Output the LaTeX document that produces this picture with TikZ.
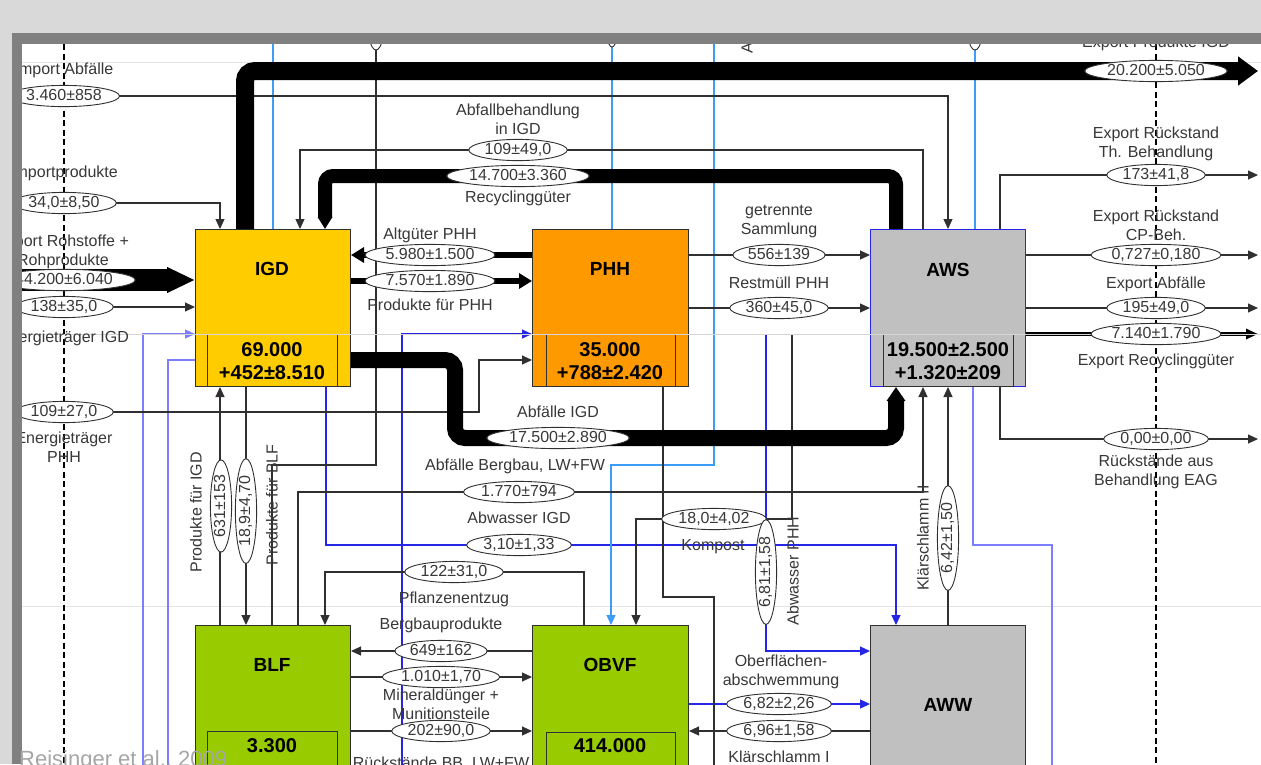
\documentclass[tikz,border=0pt]{standalone}
\usepackage{fontspec}
\setmainfont{Liberation Sans}
\usetikzlibrary{arrows.meta,shapes.geometric}
\definecolor{igdc}{HTML}{FFCC00}
\definecolor{phhc}{HTML}{FF9900}
\definecolor{grayc}{HTML}{C0C0C0}
\definecolor{greenc}{HTML}{99CC00}
\definecolor{txt}{HTML}{383838}
\definecolor{ln}{HTML}{303030}
\definecolor{bdark}{HTML}{2626E6}
\definecolor{bmid}{HTML}{7D7DFF}
\definecolor{blight}{HTML}{3D9CF5}
\definecolor{bgc}{HTML}{D9D9D9}
\definecolor{framec}{HTML}{808080}
\definecolor{footc}{HTML}{A6A6A6}
\definecolor{faintc}{HTML}{E4E4E4}
\tikzset{
 lab/.style={font=\fontsize{16}{19}\selectfont, text=txt, inner sep=0pt, align=center},
 val/.style={ellipse, draw=ln, line width=0.9pt, fill=white, font=\fontsize{16}{19}\selectfont, text=txt, inner xsep=1.5pt, inner ysep=0pt, text height=11.5pt, text depth=3.5pt},
 flow/.style={draw=ln, line width=1.1pt, -{Triangle[length=10pt,width=9pt]}},
 plain/.style={draw=ln, line width=1.1pt},
 bflow/.style={line width=1.2pt, -{Triangle[length=10pt,width=9pt]}},
 bline/.style={line width=1.2pt},
 box/.style={draw=ln, line width=1pt, anchor=north west, minimum width=155pt, minimum height=157pt, inner sep=0pt},
 lowbox/.style={box, minimum height=190pt},
 ttl/.style={font=\fontsize{19}{21}\bfseries\selectfont, text=black, inner sep=0pt},
 num/.style={font=\fontsize{20}{22}\bfseries\selectfont, text=black, inner sep=0pt},
 bound/.style={draw=black, line width=1.1pt, dash pattern=on 6pt off 3.5pt},
}
\begin{document}
\begin{tikzpicture}[x=1pt,y=-1pt]
\useasboundingbox (0,0) rectangle (1261,764);
\fill[bgc] (0,0) rectangle (1261,764);
\begin{scope}
\clip (22,44) rectangle (1261,764);
\fill[white] (22,44) rectangle (1261,764);
\draw[faintc, line width=0.8pt] (22,62) -- (1261,62);
\draw[faintc, line width=0.8pt] (22,606) -- (1261,606);
\draw[bound] (64,44) -- (64,764);
\draw[bound] (1156,44) -- (1156,764);

% boxes
\node[box, fill=igdc] (IGD) at (195,229) {};
\node[box, fill=phhc, minimum width=156pt] (PHH) at (532,229) {};
\node[box, fill=grayc, draw=bdark] (AWS) at (870,229) {};
\node[lowbox, fill=greenc] (BLF) at (195,625) {};
\node[lowbox, fill=greenc, minimum width=156pt] (OBVF) at (532,625) {};
\node[lowbox, fill=grayc] (AWW) at (870,625) {};
\draw[ln, line width=1pt] (207,334) -- (207,386) (337,334) -- (337,386);
\draw[ln, line width=1pt] (546,334) -- (546,386) (675,334) -- (675,386);
\draw[ln, line width=1pt] (883,334) -- (883,386) -- (1013,386) -- (1013,334);
\draw[ln, line width=1pt] (207,800) -- (207,731) -- (337,731) -- (337,800);
\draw[ln, line width=1pt] (546,800) -- (546,732) -- (675,732) -- (675,800);

% blue flows
\draw[bflow, bmid] (143,800) -- (143,334) -- ([yshift=-105pt]IGD.north west);
\draw[bline, bmid] ([yshift=-131pt]IGD.north west) -- (168,360) -- (168,800);
\draw[bflow, bdark] (402,800) -- (402,334) -- ([yshift=-105pt]PHH.north west);
\draw[bflow, bdark] ([xshift=131pt]IGD.south west) -- (326,545) -- (896,545) -- ([xshift=26pt]AWW.north west);
\draw[bflow, bdark] (766,334) -- (766,651) -- ([yshift=-26pt]AWW.north west);
\draw[bflow, bdark] ([yshift=-79pt]OBVF.north east) -- ([yshift=-79pt]AWW.north west);
\draw[bline, bmid] ([xshift=103pt]AWS.south west) -- (973,545) -- (1052,545) -- (1052,800);
\draw[bline, blight] (273,0) -- ([xshift=78pt]IGD.north west);
\draw[bline, blight] (612,0) -- ([xshift=80pt]PHH.north west);
\draw[bflow, blight] (714,0) -- (714,465) -- (611,465) -- ([xshift=79pt]OBVF.north west);
\draw[bline, blight] (975,0) -- ([xshift=105pt]AWS.north west);

% thin black flows
\coordinate (e1) at (1258,175);
\coordinate (e2) at (1258,255);
\coordinate (e3) at (1258,308);
\coordinate (e4) at (1258,334);
\coordinate (e5) at (1258,439);
\coordinate (w1) at (22,280);
\coordinate (t1) at (376,0);
\coordinate (k1) at (792,334);
\coordinate (d1) at (714,800);
\draw[flow] (64,96) -| ([xshift=78pt]AWS.north west);
\draw[flow] (64,203) -| ([xshift=25pt]IGD.north west);
\draw[flow] (64,307) -- ([yshift=-78pt]IGD.north west);
\draw[flow] (64,412) -- (479,412) |- ([yshift=-131pt]PHH.north west);
\draw[flow] ([xshift=53pt]AWS.north west) -- (923,150) -- (300,150) -- ([xshift=105pt]IGD.north west);
\draw[flow] ([yshift=-26pt]PHH.north east) -- ([yshift=-26pt]AWS.north west);
\draw[flow] ([yshift=-79pt]PHH.north east) -- ([yshift=-79pt]AWS.north west);
\draw[flow] ([xshift=130pt]AWS.north west) |- (e1);
\draw[flow] ([yshift=-26pt]AWS.north east) -- (e2);
\draw[flow] ([yshift=-79pt]AWS.north east) -- (e3);
\draw[draw=black, line width=4pt, -{Triangle[length=12pt,width=10pt]}] ([yshift=-105pt]AWS.north east) -- (e4);
\draw[flow] ([xshift=130pt]AWS.south west) |- (e5);
\draw[flow] ([xshift=25pt]BLF.north west) -- ([xshift=25pt]IGD.south west);
\draw[flow] ([xshift=51pt]IGD.south west) -- ([xshift=51pt]BLF.north west);
\draw[plain] ([xshift=77pt]BLF.north west) -- (272,465) -- (376,465) -- (t1);
\draw[flow] ([xshift=103pt]BLF.north west) -- (298,492) -- (923,492) -- ([xshift=53pt]AWS.south west);
\draw[flow] ([xshift=52pt]OBVF.north west) -- (584,572) -- (325,572) -- ([xshift=130pt]BLF.north west);
\draw[flow] (k1) -- (792,519) -- (636,519) -- ([xshift=104pt]OBVF.north west);
\draw[plain] ([xshift=131pt]PHH.south west) -- (663,597) -- (714,597) -- (d1);
\draw[flow] ([yshift=-26pt]OBVF.north west) -- ([yshift=-26pt]BLF.north east);
\draw[flow] ([yshift=-52pt]BLF.north east) -- ([yshift=-52pt]OBVF.north west);
\draw[flow] ([yshift=-106pt]BLF.north east) -- ([yshift=-106pt]OBVF.north west);
\draw[flow] ([yshift=-106pt]AWW.north west) -- ([yshift=-106pt]OBVF.north east);
\draw[flow] ([xshift=78pt]AWW.north west) -- ([xshift=78pt]AWS.south west);

% thick flows
\draw[black, line width=22pt, -{Triangle[length=28pt,width=24pt]}] (w1) -- ([yshift=-51pt]IGD.north west);
\draw[black, line width=18pt, rounded corners=10pt, -{Triangle[length=20pt,width=28pt]}] ([xshift=50pt]IGD.north west) -- (245,71) -- (1258,71);
\draw[black, line width=14pt, rounded corners=8pt, -{Triangle[length=12pt,width=14pt]}] ([xshift=26pt]AWS.north west) -- (896,176) -- (325,176) -- ([xshift=130pt]IGD.north west);
\draw[black, line width=16pt, rounded corners=10pt, -{Triangle[length=14pt,width=18pt]}] ([yshift=-131pt]IGD.north east) -- (455,360) -- (455,438) -- (896,438) -- ([xshift=26pt]AWS.south west);
\draw[black, line width=6pt, -{Triangle[length=13pt,width=15pt]}] ([yshift=-26pt]PHH.north west) -- ([yshift=-26pt]IGD.north east);
\draw[black, line width=6pt, -{Triangle[length=13pt,width=15pt]}] ([yshift=-52pt]IGD.north east) -- ([yshift=-52pt]PHH.north west);

\draw[faintc!85!gray, line width=0.9pt] (22,334) -- (1261,334);

% box texts
\node[ttl] (nIGD) at (272,269) {IGD};
\node[num, align=center] (qIGD) at (272,361) {69.000\\[1pt]+452±8.510};
\node[ttl] (nPHH) at (610,269) {PHH};
\node[num, align=center] (qPHH) at (610,361) {35.000\\[1pt]+788±2.420};
\node[ttl] (nAWS) at (948,270) {AWS};
\node[num, align=center] (qAWS) at (948,361) {19.500±2.500\\[1pt]+1.320±209};
\node[ttl] (nBLF) at (272,665) {BLF};
\node[num] (qBLF) at (272,746) {3.300};
\node[ttl] (nOBVF) at (610,665) {OBVF};
\node[num] (qOBVF) at (610,746) {414.000};
\node[ttl] (nAWW) at (948,705) {AWW};

% clipped top items
\draw[ln, line width=0.9pt, fill=white] (376,10) ellipse [x radius=10, y radius=40];
\draw[ln, line width=0.9pt, fill=white] (612,8) ellipse [x radius=8, y radius=39];
\draw[ln, line width=0.9pt, fill=white] (975,10) ellipse [x radius=10, y radius=40];
\node[lab, rotate=90, anchor=west] (tA) at (747,54) {Abwasser};

% labels left
\node[lab] (l1) at (64,70) {Import Abfälle};
\node[val] (v1) at (64,96) {3.460±858};
\node[lab] (l2) at (64,173) {Importprodukte};
\node[val] (v2) at (64,203) {34,0±8,50};
\node[lab] (l3) at (63,252) {Import Rohstoffe +\\Rohprodukte};
\node[val] (v3) at (64,280) {44.200±6.040};
\node[val] (v4) at (64,307) {138±35,0};
\node[lab] (l4) at (64,338) {Energieträger IGD};
\node[val] (v5) at (64,412) {109±27,0};
\node[lab] (l5) at (64,447) {Energieträger\\PHH};

% labels middle
\node[lab] (l6) at (518,119) {Abfallbehandlung\\in IGD};
\node[val] (v6) at (518,150) {109±49,0};
\node[val] (v7) at (518,176) {14.700±3.360};
\node[lab] (l7) at (518,198) {Recyclinggüter};
\node[lab] (l8) at (430,235) {Altgüter PHH};
\node[val] (v8) at (430,255) {5.980±1.500};
\node[val] (v9) at (430,281) {7.570±1.890};
\node[lab] (l9) at (430,305) {Produkte für PHH};
\node[lab] (l10) at (779,221) {getrennte\\Sammlung};
\node[val] (v10) at (779,255) {556±139};
\node[lab] (l11) at (779,283) {Restmüll PHH};
\node[val] (v11) at (779,308) {360±45,0};

% labels right
\node[lab] (l12) at (1156,43) {Export Produkte IGD};
\node[val] (v12) at (1156,71) {20.200±5.050};
\node[lab] (l13) at (1156,144) {Export Rückstand\\Th. Behandlung};
\node[val] (v13) at (1156,175) {173±41,8};
\node[lab] (l14) at (1156,225) {Export Rückstand\\CP-Beh.};
\node[val] (v14) at (1156,255) {0,727±0,180};
\node[lab] (l15) at (1156,284) {Export Abfälle};
\node[val] (v15) at (1156,308) {195±49,0};
\node[val] (v16) at (1156,334) {7.140±1.790};
\node[lab] (l16) at (1156,361) {Export Recyclinggüter};
\node[val] (v17) at (1156,439) {0,00±0,00};
\node[lab] (l17) at (1156,472) {Rückstände aus\\Behandlung EAG};

% labels lower
\node[lab] (l18) at (558,412) {Abfälle IGD};
\node[val] (v18) at (558,438) {17.500±2.890};
\node[lab] (l19) at (515,466) {Abfälle Bergbau, LW+FW};
\node[val] (v19) at (519,492) {1.770±794};
\node[lab] (l20) at (519,518) {Abwasser IGD};
\node[val] (v20) at (519,545) {3,10±1,33};
\node[val] (v21) at (454,572) {122±31,0};
\node[lab] (l21) at (454,599) {Pflanzenentzug};
\node[lab] (l22) at (441,625) {Bergbauprodukte};
\node[val] (v22) at (441,651) {649±162};
\node[val] (v23) at (441,677) {1.010±1,70};
\node[lab] (l23) at (441,704) {Mineraldünger +\\Munitionsteile};
\node[val] (v24) at (441,731) {202±90,0};
\node[lab] (l24) at (441,764) {Rückstände BB, LW+FW};
\node[val] (v25) at (714,519) {18,0±4,02};
\node[lab] (l25) at (713,547) {Kompost};
\node[val, rotate=90] (v26) at (766,572) {6,81±1,58};
\node[lab, rotate=90] (l26) at (793,571) {Abwasser PHH};
\node[lab, rotate=90] (l27) at (923,538) {Klärschlamm II};
\node[val, rotate=90] (v27) at (948,538) {6,42±1,50};
\node[lab] (l28) at (781,672) {Oberflächen-\\abschwemmung};
\node[val] (v28) at (779,704) {6,82±2,26};
\node[val] (v29) at (779,731) {6,96±1,58};
\node[lab] (l29) at (779,757) {Klärschlamm I};
\node[lab, rotate=90] (l30) at (196,512) {Produkte für IGD};
\node[val, rotate=90] (v30) at (221,506) {631±153};
\node[val, rotate=90] (v31) at (246,511) {18,9±4,70};
\node[lab, rotate=90] (l31) at (272,505) {Produkte für BLF};
\end{scope}
\fill[framec] (12,33) rectangle (1261,44);
\fill[framec] (12,33) rectangle (22,764);
\node[anchor=base west, font=\fontsize{22}{24}\selectfont, text=footc, inner sep=0pt] (foot) at (19,766) {Reisinger et al., 2009};
\end{tikzpicture}
\end{document}
